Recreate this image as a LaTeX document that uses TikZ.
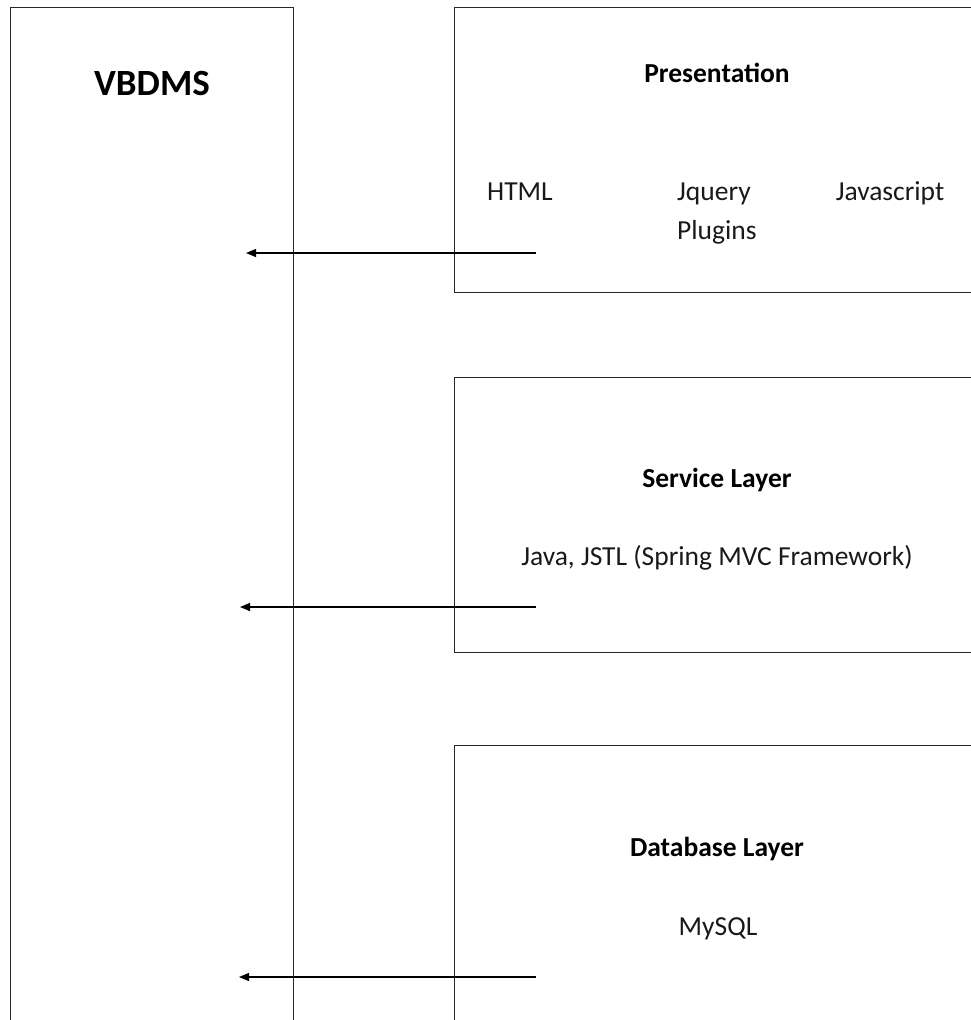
\documentclass[tikz,border=0pt]{standalone}
\usepackage{fontspec}
\setmainfont{Carlito}
\usetikzlibrary{arrows.meta}
\begin{document}
\begin{tikzpicture}[x=1pt,y=-1pt,
  frame/.style={draw=black!85,line width=1.4pt,rectangle,inner sep=0pt,anchor=north west},
  title/.style={font=\fontsize{27.5}{33}\selectfont\bfseries,inner sep=0pt,anchor=base},
  item/.style={font=\fontsize{27.5}{33}\selectfont,inner sep=0pt,anchor=base,text=black!90},
  link/.style={line width=1.2pt,-{Triangle[length=10pt,width=8pt]}}]
\useasboundingbox (0,0) rectangle (971,1020);
\clip (0,0) rectangle (971,1020);
% boxes
\node[frame,minimum width=283pt,minimum height=1100pt] (sys) at (10,7) {};
\node[frame,minimum width=560pt,minimum height=285pt] (pres) at (454,7) {};
\node[frame,minimum width=560pt,minimum height=275pt] (serv) at (454,377) {};
\node[frame,minimum width=560pt,minimum height=400pt] (db) at (454,745) {};
% texts
\node[title,font=\fontsize{37}{44}\selectfont\bfseries] (vb) at (152,95) {VBDMS};
\node[title] (pt) at (717,82) {Presentation};
\node[item] (html) at (520,200) {HTML};
\node[item,anchor=base west] (jq) at (677,200) {Jquery};
\node[item,anchor=base west] (plg) at (677,239) {Plugins};
\node[item] (js) at (890,200) {Javascript};
\node[title] (st) at (717,487) {Service Layer};
\node[item] (java) at (717,565) {Java, JSTL (Spring MVC Framework)};
\node[title] (dt) at (717,856) {Database Layer};
\node[item] (sql) at (718,935) {MySQL};
% arrows
\coordinate (p1) at (536,253);
\coordinate (q1) at (246,253);
\coordinate (p2) at (536,607);
\coordinate (q2) at (240,607);
\coordinate (p3) at (536,977);
\coordinate (q3) at (239,977);
\draw[link] (p1) -- (q1);
\draw[link] (p2) -- (q2);
\draw[link] (p3) -- (q3);
\end{tikzpicture}
\end{document}
